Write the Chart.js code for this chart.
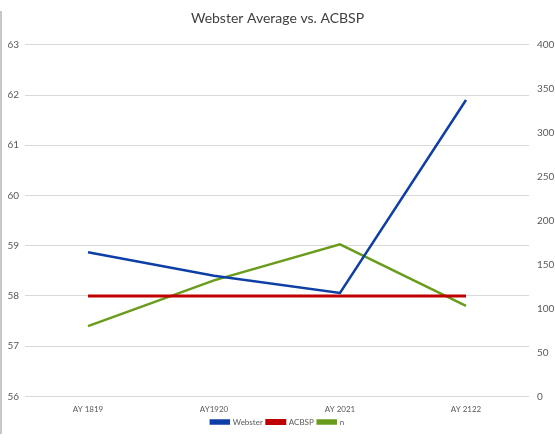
<!DOCTYPE html>
<html>
<head>
<meta charset="utf-8">
<script src="https://cdn.jsdelivr.net/npm/chart.js@4"></script>
<style>
  body { margin: 0; background: #fff; }
  #wrap { position: relative; width: 555px; height: 444px; }
  #edge { position: absolute; left: 0; top: 11px; width: 2px; height: 423px; background: #c8c8c8; }
</style>
</head>
<body>
<div id="wrap">
  <canvas id="mylinechart" width="555" height="444"></canvas>
  <div id="edge"></div>
</div>
<script>
// chart data
const years = ['AY 1819', 'AY1920', 'AY 2021', 'AY 2122']
const websterAvg = [58.87, 58.4, 58.06, 61.9]
const acbspAvg = [58, 58, 58, 58]
const nCount = [80, 132, 173, 103]

Chart.defaults.font.family = 'Lato, "Liberation Sans", sans-serif'
Chart.defaults.color = '#595959'

function drawlinechart(){
    const canvas = document.getElementById("mylinechart")
    new Chart(canvas, {
        type: 'line',
        data: {
            labels: years,
            datasets: [{
                label: 'Webster',
                data: websterAvg,
                borderColor: '#0d3fa6',
                backgroundColor: '#0d3fa6',
                borderWidth: 2.5,
                yAxisID: 'y'
            }, {
                label: 'ACBSP',
                data: acbspAvg,
                borderColor: '#c00000',
                backgroundColor: '#c00000',
                borderWidth: 3,
                yAxisID: 'y'
            }, {
                label: 'n',
                data: nCount,
                borderColor: '#6a9c1c',
                backgroundColor: '#6a9c1c',
                borderWidth: 2.5,
                yAxisID: 'y1'
            }]
        },
        options: {
            responsive: false,
            animation: false,
            elements: {
                point: { radius: 0 },
                line: { tension: 0 }
            },
            layout: { padding: { top: 0, bottom: 8, left: 0, right: 0 } },
            plugins: {
                title: {
                    display: true,
                    text: 'Webster Average vs. ACBSP',
                    color: '#404040',
                    font: { size: 14, weight: 'normal' },
                    padding: { top: 10, bottom: 18 }
                },
                legend: {
                    position: 'bottom',
                    labels: {
                        boxWidth: 18,
                        boxHeight: 3,
                        padding: 4,
                        font: { size: 8 }
                    }
                },
                tooltip: { enabled: false }
            },
            scales: {
                x: {
                    offset: true,
                    grid: { display: false, offset: true },
                    border: { display: false },
                    ticks: { font: { size: 8 }, padding: 0, maxRotation: 0 }
                },
                y: {
                    position: 'left',
                    min: 56,
                    max: 63,
                    ticks: { stepSize: 1, font: { size: 10 }, padding: 6 },
                    grid: { color: '#d9d9d9', drawTicks: false },
                    border: { display: false },
                    afterFit: function(scale){ scale.width = 25 }
                },
                y1: {
                    position: 'right',
                    min: 0,
                    max: 400,
                    ticks: { stepSize: 50, font: { size: 10 }, padding: 8 },
                    grid: { display: false, drawTicks: false },
                    border: { display: false },
                    afterFit: function(scale){ scale.width = 26 }
                }
            }
        }
    })
}
drawlinechart()
</script>
</body>
</html>
